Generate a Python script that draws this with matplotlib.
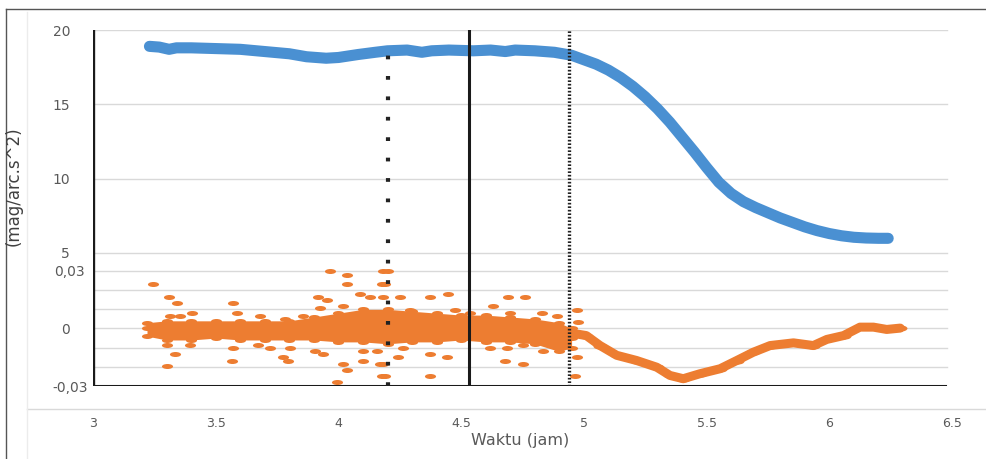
import numpy as np
import matplotlib.pyplot as plt
from matplotlib.path import Path
from matplotlib.transforms import Affine2D
from matplotlib.lines import Line2D

# sky brightness (mag/arc.s^2), blue
blue_x = [3.23, 3.27, 3.31, 3.34, 3.4, 3.5, 3.6, 3.7, 3.8, 3.87, 3.95, 4.0, 4.08, 4.15,
          4.2, 4.28, 4.34, 4.38, 4.45, 4.55, 4.62, 4.68, 4.72, 4.8, 4.88, 4.95, 5.0,
          5.05, 5.1, 5.15, 5.2, 5.25, 5.3, 5.35, 5.4, 5.45, 5.5, 5.55, 5.6, 5.65, 5.7,
          5.75, 5.8, 5.85, 5.9, 5.95, 6.0, 6.05, 6.1, 6.15, 6.2, 6.24]
blue_y = [18.9, 18.85, 18.7, 18.8, 18.8, 18.75, 18.7, 18.55, 18.4, 18.2, 18.1, 18.15,
          18.35, 18.5, 18.6, 18.65, 18.5, 18.6, 18.65, 18.6, 18.65, 18.55, 18.65, 18.6,
          18.5, 18.3, 18.0, 17.7, 17.3, 16.8, 16.2, 15.5, 14.7, 13.8, 12.8, 11.8, 10.75,
          9.75, 9.0, 8.45, 8.05, 7.7, 7.35, 7.05, 6.75, 6.5, 6.3, 6.15, 6.05, 6.0, 5.98, 5.98]

# orange: dense band edges (3.2 - 4.95)
band_x = [3.22, 3.3, 3.4, 3.5, 3.6, 3.7, 3.8, 3.9, 4.0, 4.1, 4.2, 4.3, 4.4, 4.5, 4.6,
          4.7, 4.8, 4.9, 4.95]
band_hi = [0.003, 0.004, 0.004, 0.004, 0.004, 0.004, 0.004, 0.006, 0.008, 0.010, 0.010,
           0.009, 0.008, 0.007, 0.007, 0.006, 0.005, 0.003, 0.0]
band_lo = [-0.004, -0.006, -0.006, -0.005, -0.006, -0.006, -0.006, -0.006, -0.007,
           -0.007, -0.008, -0.007, -0.007, -0.006, -0.007, -0.007, -0.008, -0.012, -0.010]
band_mid = [0.0, -0.001, -0.001, -0.0005, -0.001, -0.001, -0.001, 0.0, 0.0005, 0.0015,
            0.001, 0.001, 0.0005, 0.0005, 0.0, -0.0005, -0.0015, -0.0045, -0.005]

# orange: scattered points
scat_x = [3.246, 3.311, 3.341, 3.314, 3.355, 3.402, 3.30, 3.334, 3.30, 3.395, 3.572,
          3.585, 3.572, 3.565, 3.68, 3.674, 3.72, 3.782, 3.803, 3.776, 3.796, 3.857,
          3.905, 3.938, 3.966, 4.034, 4.034, 3.918, 3.952, 3.925, 4.02, 4.088, 4.129,
          4.176, 4.183, 3.993, 4.02, 4.034, 4.10, 4.10, 4.156, 4.17, 4.176, 4.203, 4.19,
          4.251, 4.373, 4.448, 4.183, 4.292, 4.475, 4.536, 4.631, 4.692, 4.76, 4.70,
          4.828, 4.89, 4.971, 4.978, 4.244, 4.373, 4.441, 4.373, 4.19, 4.183, 4.264,
          4.618, 4.686, 4.679, 4.754, 4.835, 4.971, 4.964, 4.754]
scat_y = [0.023, 0.0163, 0.0132, 0.0064, 0.0064, 0.0082, -0.0085, -0.0134, -0.0198,
          -0.0085, 0.0132, 0.0082, -0.0101, -0.0167, 0.0064, -0.0085, -0.0101, 0.0047,
          -0.0101, -0.015, -0.0167, 0.0064, -0.0117, -0.0134, 0.0298, 0.028, 0.023,
          0.0163, 0.0146, 0.0106, 0.0115, 0.018, 0.0163, 0.023, 0.0298, -0.028, -0.0184,
          -0.0216, -0.0117, -0.0167, -0.0117, -0.0184, -0.0249, 0.0298, 0.023, 0.0163,
          0.0163, 0.018, 0.0163, 0.0099, 0.0099, 0.0082, 0.0115, 0.0163, 0.0163, 0.0082,
          0.0082, 0.0064, 0.0099, 0.0033, -0.015, -0.0134, -0.015, -0.0249, -0.0249,
          -0.0184, -0.0101, -0.0101, -0.0101, -0.0167, -0.0184, -0.0117, -0.015, -0.0249,
          -0.0085]

# orange: trend after 4.93
trend_x = [4.93, 5.01, 5.066, 5.134, 5.215, 5.297, 5.351, 5.405, 5.473, 5.555, 5.623,
           5.69, 5.759, 5.854, 5.935, 5.99, 6.058, 6.125, 6.18, 6.234, 6.289]
trend_y = [-0.002, -0.0037, -0.0089, -0.014, -0.0167, -0.0202, -0.0245, -0.0262, -0.0236,
           -0.021, -0.0167, -0.0124, -0.0089, -0.0075, -0.0089, -0.0057, -0.0037, 0.0007,
           0.0007, -0.0005, 0.0002]

event_x = [4.2, 4.53, 4.94]

upper_ticks = [20, 15, 10, 5]
lower_ticks = [0.03, 0, -0.03]
lower_labels = ['0,03', '0', '-0,03']
x_ticks = [3, 3.5, 4, 4.5, 5, 5.5, 6, 6.5]

BLUE = '#4a90d2'
ORANGE = '#ed7d31'
GREY = '#595959'
GRID = '#d9d9d9'

ell = Path.unit_circle().transformed(Affine2D().scale(1.0, 0.45))
mk = dict(ls='none', marker=ell, ms=8, mew=0, color=ORANGE, zorder=2)

fig = plt.figure(figsize=(9.87, 4.59), dpi=100)
ax1 = fig.add_axes([93 / 987, 1 - 386 / 459, 859 / 987, 356 / 459])
ax1.set_xlim(3, 6.5)
ax1.set_ylim(-3.96, 20)
for s in ax1.spines.values():
    s.set_visible(False)

ax2 = ax1.twinx()
ax2.set_ylim(-0.03, 0.1557)
for s in ax2.spines.values():
    s.set_visible(False)

# gridlines
for v in upper_ticks:
    ax1.axhline(v, xmax=0.994, color=GRID, lw=1, zorder=0)
for v in np.arange(-0.02, 0.031, 0.01):
    ax2.axhline(v, xmax=0.994, color=GRID, lw=1, zorder=0)

ax1.plot(blue_x, blue_y, color=BLUE, lw=8, solid_capstyle='round',
         solid_joinstyle='round', zorder=3)

ax2.fill_between(band_x, band_lo, band_hi, color=ORANGE, lw=0, zorder=2)
ax2.plot(band_x, band_hi, **mk)
ax2.plot(band_x, band_lo, **mk)
ax2.plot(band_x, band_mid, **mk)
ax2.plot(scat_x, scat_y, **mk)
ax2.plot(trend_x, trend_y, color=ORANGE, lw=6.5, solid_capstyle='round',
         solid_joinstyle='round', zorder=2)
ax2.plot(trend_x, trend_y, **dict(mk, ms=10))

# frame lines and event markers
ax2.axvline(3, color='#1a1a1a', lw=2.4, zorder=5)
ax2.axhline(-0.03, xmax=0.992, color='#1a1a1a', lw=2.2, zorder=5)
ax2.axvline(event_x[0], ymax=0.972, color='#222222', lw=3.0, ls=(0, (0.9, 4.0)), zorder=5)
ax2.axvline(event_x[1], color='#1a1a1a', lw=2.2, zorder=5)
ax2.axvline(event_x[2], color='#222222', lw=2.4, ls=(0, (0.5, 0.55)), zorder=5)

# ticks
ax1.set_xticks(x_ticks)
ax1.set_xticklabels(['3', '3.5', '4', '4.5', '5', '5.5', '6', '6.5'])
ax1.tick_params(axis='x', length=0, pad=22, labelsize=9, labelcolor=GREY)
ax1.set_yticks(upper_ticks)
ax1.set_yticklabels([str(v) for v in upper_ticks])
ax1.tick_params(axis='y', length=0, pad=16.5, labelsize=10, labelcolor=GREY)

ax2.yaxis.set_ticks_position('left')
ax2.set_yticks(lower_ticks)
ax2.set_yticklabels(lower_labels)
ax2.tick_params(axis='y', length=0, labelsize=10, labelcolor=GREY)
for t, p in zip(ax2.yaxis.get_major_ticks(), [5.8, 16.5, 3.6]):
    t.set_pad(p)

# outer chart decorations
fig.add_artist(Line2D([27 / 987, 1], [1 - 409 / 459] * 2, color='#d9d9d9', lw=1))
fig.add_artist(Line2D([27 / 987] * 2, [0, 1 - 12 / 459], color='#ececec', lw=1))
fig.add_artist(Line2D([6 / 987, 985 / 987], [1 - 9 / 459] * 2, color='#555555', lw=1))
fig.add_artist(Line2D([6 / 987] * 2, [0, 1 - 9 / 459], color='#555555', lw=1))

fig.text(14 / 987, 1 - 186 / 459, '(mag/arc.s^2)', rotation=90, ha='center',
         va='center', fontsize=12, color='#404040')
fig.text(520 / 987, 1 - 441 / 459, 'Waktu (jam)', ha='center', va='center',
         fontsize=11.5, color=GREY)

fig.savefig('out.png', dpi=100)
